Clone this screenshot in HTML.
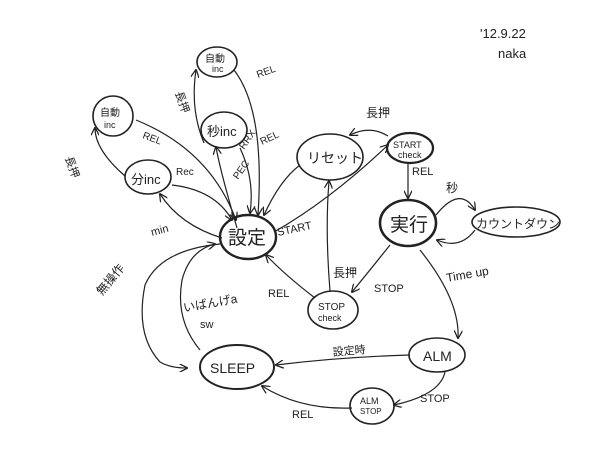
<!DOCTYPE html>
<html><head><style>
body{margin:0;background:#fff}
svg{display:block}
text{font-family:"Liberation Sans","Noto Sans CJK JP",sans-serif;fill:#222}
</style></head><body>
<svg width="600" height="450" viewBox="0 0 600 450" xmlns="http://www.w3.org/2000/svg">
<defs><marker id="a" viewBox="0 0 10 10" refX="9" refY="5" markerWidth="7" markerHeight="7" orient="auto"><path d="M0,0 L10,5 L0,10" fill="none" stroke="#222" stroke-width="1.5"/></marker></defs>
<g fill="none" stroke="#222" stroke-width="1.6">
<ellipse cx="217" cy="62" rx="20" ry="15"/>
<ellipse cx="224" cy="130" rx="23" ry="18"/>
<ellipse cx="113" cy="116" rx="20" ry="20"/>
<ellipse cx="148" cy="177" rx="23" ry="17"/>
<ellipse cx="248" cy="237" rx="28" ry="22" stroke-width="2.4"/>
<ellipse cx="330" cy="157" rx="33" ry="23"/>
<ellipse cx="410" cy="148" rx="23" ry="15" stroke-width="2.2"/>
<ellipse cx="408" cy="223" rx="28" ry="23" stroke-width="2.6"/>
<ellipse cx="516" cy="222" rx="44" ry="15"/>
<ellipse cx="333" cy="310" rx="25" ry="19"/>
<ellipse cx="437" cy="355" rx="28" ry="17"/>
<ellipse cx="237" cy="367" rx="37" ry="22" stroke-width="2"/>
<ellipse cx="372" cy="406" rx="22" ry="18"/>
</g>
<g fill="none" stroke="#222" stroke-width="1.2" marker-end="url(#a)">
<path d="M204,143 Q190,110 196,70"/>
<path d="M234,70 Q265,110 258,215"/>
<path d="M240,148 Q255,180 250,213"/>
<path d="M237,228 Q220,170 216,147"/>
<path d="M136,120 Q210,150 236,220"/>
<path d="M125,176 Q95,150 95,128"/>
<path d="M172,185 Q215,190 232,220"/>
<path d="M222,238 Q180,225 160,194"/>
<path d="M300,165 Q280,180 264,215"/>
<path d="M274,232 Q330,200 388,145"/>
<path d="M388,136 Q370,125 350,135"/>
<path d="M408,163 L408,198"/>
<path d="M436,215 Q460,185 475,210"/>
<path d="M475,230 Q460,250 437,240"/>
<path d="M390,245 Q370,270 352,292"/>
<path d="M330,291 Q325,230 329,181"/>
<path d="M315,298 Q285,275 266,255"/>
<path d="M420,250 Q460,300 458,338"/>
<path d="M410,355 Q340,357 276,365"/>
<path d="M445,372 Q440,395 394,405"/>
<path d="M352,408 Q300,410 262,386"/>
<path d="M220,244 Q160,250 145,285 Q135,335 160,362 Q170,368 187,368"/>
<path d="M200,350 Q175,320 182,280 Q190,250 215,244"/>
</g>
<g font-size="11">
<text x="205" y="62" font-size="10">自動</text><text x="212" y="72" font-size="9">inc</text>
<text x="207" y="136" font-size="13">秒inc</text>
<text x="100" y="116" font-size="10">自動</text><text x="104" y="128" font-size="9">inc</text>
<text x="131" y="184" font-size="13">分inc</text>
<text x="228" y="244" font-size="19">設定</text>
<text x="307" y="163" font-size="14">リセット</text>
<text x="393" y="148" font-size="9">START</text><text x="398" y="158" font-size="9">check</text>
<text x="390" y="231" font-size="19">実行</text>
<text x="476" y="228" font-size="12">カウントダウン</text>
<text x="318" y="310" font-size="10">STOP</text><text x="318" y="321" font-size="9">check</text>
<text x="423" y="361" font-size="14">ALM</text>
<text x="210" y="373" font-size="14">SLEEP</text>
<text x="360" y="404" font-size="9">ALM</text><text x="360" y="414" font-size="8">STOP</text>
<text x="480" y="38" font-size="13">'12.9.22</text>
<text x="498" y="58" font-size="13">naka</text>
<text x="152" y="236" transform="rotate(-15 152 236)">min</text>
<text x="65" y="158" transform="rotate(70 65 158)">長押</text>
<text x="175" y="93" transform="rotate(70 175 93)">長押</text>
<text x="142" y="138" font-size="10" transform="rotate(20 142 138)">REL</text>
<text x="176" y="175" font-size="10">Rec</text>
<text x="258" y="78" font-size="10" transform="rotate(-20 258 78)">REL</text>
<text x="238" y="180" font-size="10" transform="rotate(-55 238 180)">PEC</text>
<text x="244" y="150" font-size="10" transform="rotate(-55 244 150)">RRX</text>
<text x="262" y="145" font-size="10" transform="rotate(-25 262 145)">REL</text>
<text x="278" y="236" transform="rotate(-12 278 236)">START</text>
<text x="268" y="297">REL</text>
<text x="333" y="277" font-size="12">長押</text>
<text x="374" y="292">STOP</text>
<text x="366" y="117" font-size="12">長押</text>
<text x="412" y="175">REL</text>
<text x="446" y="192" font-size="12">秒</text>
<text x="447" y="282" font-size="12" transform="rotate(-10 447 282)">Time up</text>
<text x="420" y="402">STOP</text>
<text x="292" y="418">REL</text>
<text x="333" y="356" font-size="11" transform="rotate(-5 333 356)">設定時</text>
<text x="102" y="296" font-size="12" transform="rotate(-50 102 296)">無操作</text>
<text x="184" y="312" font-size="12" transform="rotate(-10 184 312)">いばんげa</text>
<text x="200" y="328" font-size="11">sw</text>
</g>
</svg>
</body></html>
